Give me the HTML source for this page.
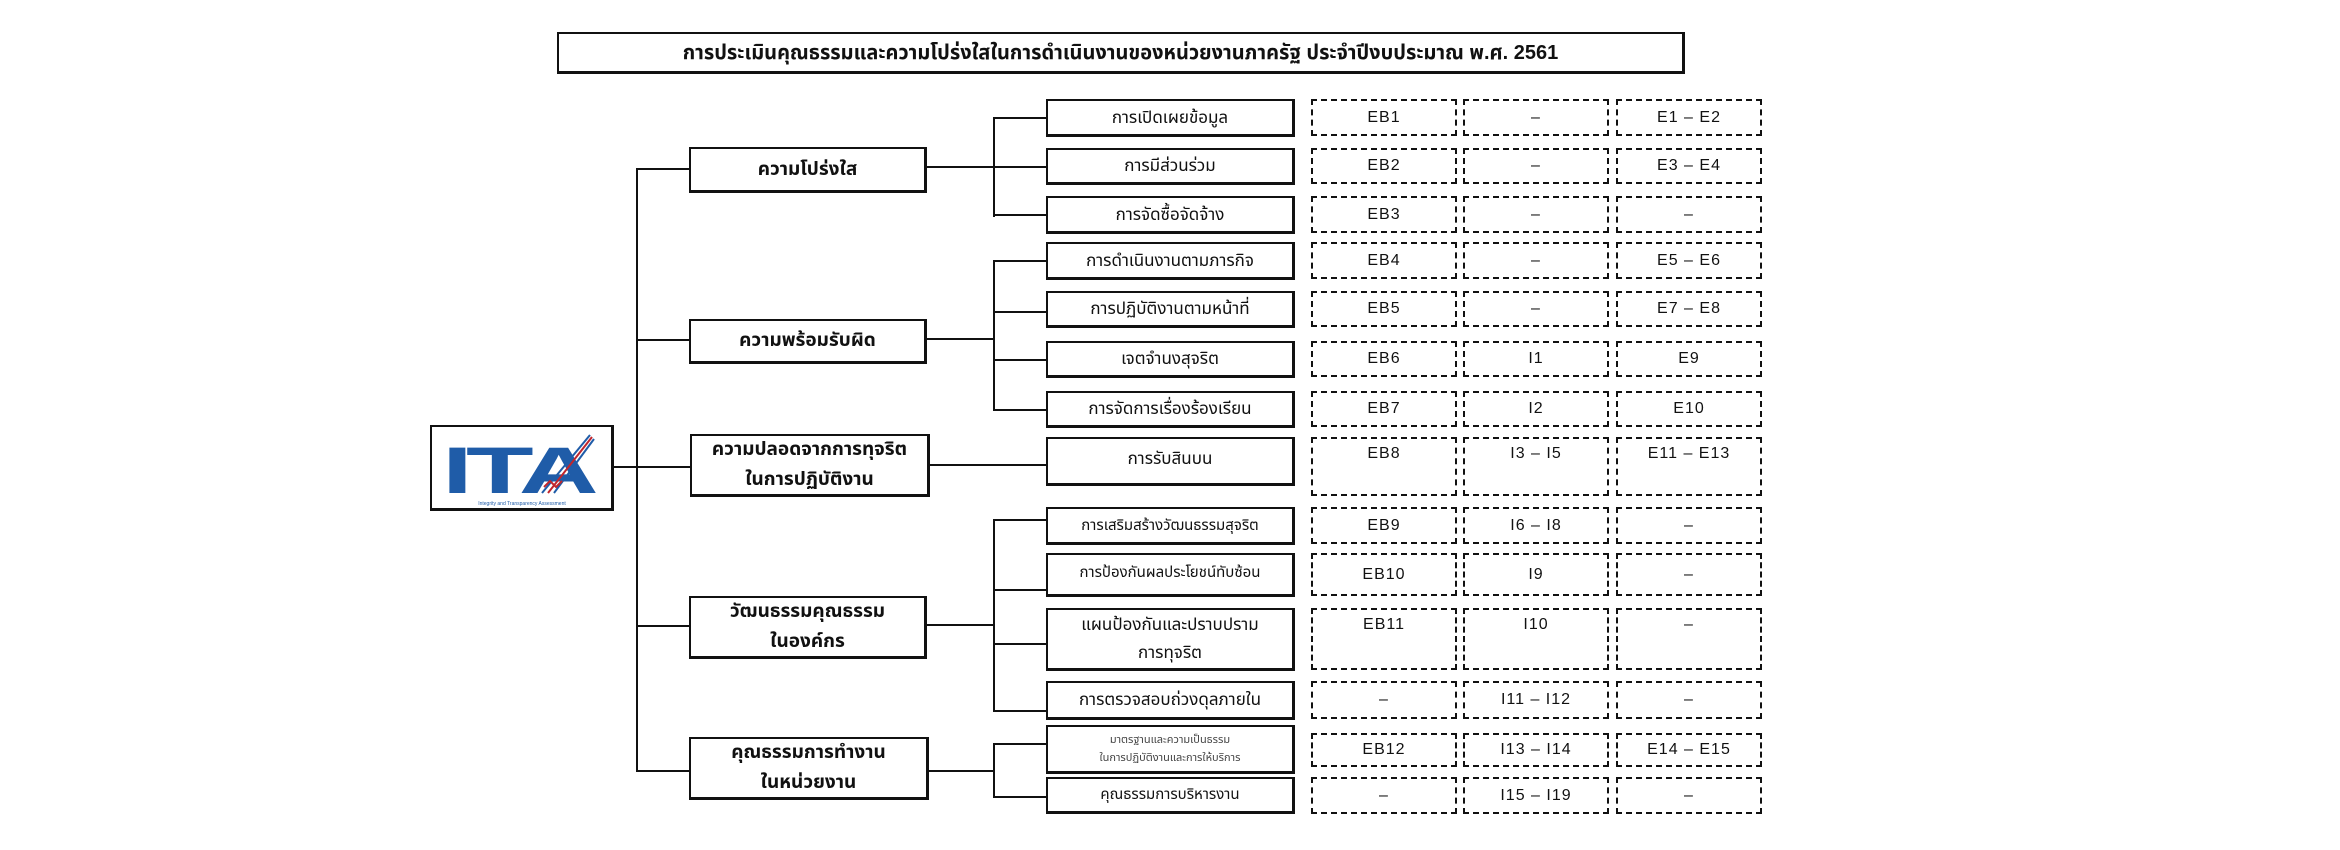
<!DOCTYPE html>
<html><head><meta charset="utf-8"><style>
body{margin:0;width:2340px;height:850px;background:#fff;position:relative;overflow:hidden;font-family:"Liberation Sans","Noto Sans Thai","Tlwg Typist","Garuda",sans-serif;color:#111}
.b{position:absolute;box-sizing:border-box;border:2px solid #111;border-right-width:3px;border-bottom-width:3px;display:flex;align-items:center;justify-content:center;text-align:center;background:#fff}
.m{font-weight:bold;font-size:19px;line-height:30px}
.s{font-size:17px;line-height:28px}
.d{position:absolute;box-sizing:border-box;border:2px dashed #111;display:flex;align-items:center;justify-content:center;font-size:16px;letter-spacing:1px}
.h{position:absolute;height:2px;background:#111}
.v{position:absolute;width:2px;background:#111}
</style></head><body>
<div class="b" style="left:557px;top:32px;width:1128px;height:42px;font-weight:bold;font-size:20px">การประเมินคุณธรรมและความโปร่งใสในการดำเนินงานของหน่วยงานภาครัฐ ประจำปีงบประมาณ พ.ศ. 2561</div>

<div class="b" style="left:430px;top:425px;width:184px;height:86px;display:block">
<svg width="180" height="82" viewBox="0 0 180 82">
<text x="10" y="66" font-family="Liberation Sans" font-weight="bold" font-size="66" fill="#1f5ca8" letter-spacing="-4" textLength="150" lengthAdjust="spacingAndGlyphs">ITA</text>
<path d="M110 66 L158 8" stroke="#1f5ca8" stroke-width="2"/>
<path d="M116 66 L160 10" stroke="#c0262d" stroke-width="2"/>
<path d="M122 66 L162 12" stroke="#1f5ca8" stroke-width="2"/>
<path d="M112 60 l6 -6 l6 6 l6 -6" stroke="#c0262d" stroke-width="2" fill="none"/>
<text x="90" y="78" font-family="Liberation Sans" font-size="5" fill="#1f5ca8" text-anchor="middle">Integrity and Transparency Assessment</text>
</svg></div>

<!-- trunk -->
<div class="v" style="left:636px;top:168px;height:604px"></div>
<div class="h" style="left:636px;top:168px;width:54px"></div>
<div class="h" style="left:636px;top:339px;width:54px"></div>
<div class="h" style="left:612px;top:466px;width:78px"></div>
<div class="h" style="left:636px;top:625px;width:54px"></div>
<div class="h" style="left:636px;top:770px;width:54px"></div>

<div class="b m" style="left:689px;top:147px;width:238px;height:46px">ความโปร่งใส</div>
<div class="b m" style="left:689px;top:319px;width:238px;height:45px">ความพร้อมรับผิด</div>
<div class="b m" style="left:690px;top:434px;width:240px;height:63px">ความปลอดจากการทุจริต<br>ในการปฏิบัติงาน</div>
<div class="b m" style="left:689px;top:596px;width:238px;height:63px">วัฒนธรรมคุณธรรม<br>ในองค์กร</div>
<div class="b m" style="left:689px;top:737px;width:240px;height:63px">คุณธรรมการทำงาน<br>ในหน่วยงาน</div>

<!-- group connectors -->
<div class="h" style="left:926px;top:166px;width:120px"></div>
<div class="v" style="left:993px;top:117px;height:100px"></div>
<div class="h" style="left:993px;top:117px;width:53px"></div>
<div class="h" style="left:993px;top:214px;width:53px"></div>

<div class="h" style="left:926px;top:338px;width:68px"></div>
<div class="v" style="left:993px;top:260px;height:150px"></div>
<div class="h" style="left:993px;top:260px;width:53px"></div>
<div class="h" style="left:993px;top:311px;width:53px"></div>
<div class="h" style="left:993px;top:359px;width:53px"></div>
<div class="h" style="left:993px;top:409px;width:53px"></div>

<div class="h" style="left:929px;top:464px;width:117px"></div>

<div class="h" style="left:926px;top:624px;width:68px"></div>
<div class="v" style="left:993px;top:519px;height:193px"></div>
<div class="h" style="left:993px;top:519px;width:53px"></div>
<div class="h" style="left:993px;top:589px;width:53px"></div>
<div class="h" style="left:993px;top:643px;width:53px"></div>
<div class="h" style="left:993px;top:710px;width:53px"></div>

<div class="h" style="left:929px;top:770px;width:65px"></div>
<div class="v" style="left:993px;top:743px;height:54px"></div>
<div class="h" style="left:993px;top:743px;width:53px"></div>
<div class="h" style="left:993px;top:796px;width:53px"></div>

<!-- sub boxes -->
<div class="b s" style="left:1046px;top:99px;width:249px;height:38px">การเปิดเผยข้อมูล</div>
<div class="b s" style="left:1046px;top:148px;width:249px;height:37px">การมีส่วนร่วม</div>
<div class="b s" style="left:1046px;top:196px;width:249px;height:38px">การจัดซื้อจัดจ้าง</div>
<div class="b s" style="left:1046px;top:242px;width:249px;height:38px">การดำเนินงานตามภารกิจ</div>
<div class="b s" style="left:1046px;top:291px;width:249px;height:37px">การปฏิบัติงานตามหน้าที่</div>
<div class="b s" style="left:1046px;top:341px;width:249px;height:37px">เจตจำนงสุจริต</div>
<div class="b s" style="left:1046px;top:391px;width:249px;height:37px">การจัดการเรื่องร้องเรียน</div>
<div class="b s" style="left:1046px;top:437px;width:249px;height:49px;align-items:flex-start;padding-top:6px">การรับสินบน</div>
<div class="b s" style="left:1046px;top:507px;width:249px;height:38px;font-size:15px">การเสริมสร้างวัฒนธรรมสุจริต</div>
<div class="b s" style="left:1046px;top:553px;width:249px;height:44px;font-size:15px;align-items:flex-start;padding-top:4px">การป้องกันผลประโยชน์ทับซ้อน</div>
<div class="b s" style="left:1046px;top:608px;width:249px;height:63px">แผนป้องกันและปราบปราม<br>การทุจริต</div>
<div class="b s" style="left:1046px;top:681px;width:249px;height:39px">การตรวจสอบถ่วงดุลภายใน</div>
<div class="b s" style="left:1046px;top:725px;width:249px;height:49px;font-size:11px;line-height:18px;color:#444">มาตรฐานและความเป็นธรรม<br>ในการปฏิบัติงานและการให้บริการ</div>
<div class="b s" style="left:1046px;top:777px;width:249px;height:37px;font-size:15px">คุณธรรมการบริหารงาน</div>

<!-- dashed columns -->
<div id="dc"></div>
<script>
var rows=[[99,37,"EB1","–","E1 – E2"],[148,36,"EB2","–","E3 – E4"],[196,37,"EB3","–","–"],[242,37,"EB4","–","E5 – E6"],[291,36,"EB5","–","E7 – E8"],[341,36,"EB6","I1","E9"],[391,36,"EB7","I2","E10"],[437,59,"EB8","I3 – I5","E11 – E13",1],[507,37,"EB9","I6 – I8","–"],[553,43,"EB10","I9","–"],[608,62,"EB11","I10","–",1],[681,38,"–","I11 – I12","–"],[733,34,"EB12","I13 – I14","E14 – E15"],[777,37,"–","I15 – I19","–"]];
var xs=[[1311,146],[1463,146],[1616,146]],h="";
rows.forEach(function(r){for(var i=0;i<3;i++){h+='<div class="d" style="left:'+xs[i][0]+'px;top:'+r[0]+'px;width:'+xs[i][1]+'px;height:'+r[1]+'px;'+(r[5]?'align-items:flex-start;padding-top:6px':'')+'">'+r[2+i]+'</div>';}});
document.getElementById("dc").outerHTML=h;
</script>
</body></html>
